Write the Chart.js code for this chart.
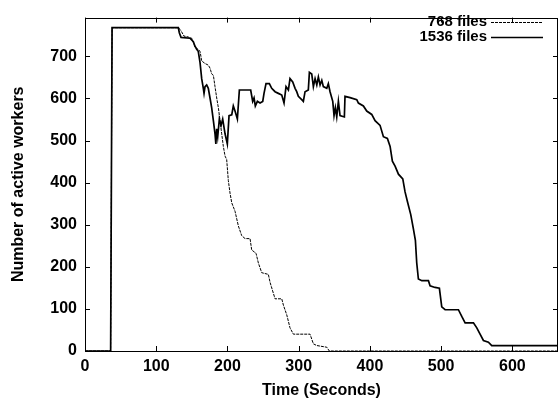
<!DOCTYPE html>
<html>
<head>
<meta charset="utf-8">
<title>Active workers</title>
<script src="https://cdn.jsdelivr.net/npm/chart.js@4/dist/chart.umd.min.js"></script>
<style>
  html, body { margin: 0; padding: 0; background: #fff; }
  #wrap { width: 558px; height: 400px; position: relative; }
</style>
</head>
<body>
<div id="wrap"><canvas id="chart"></canvas></div>
<script>
// Data (detik, jumlah worker aktif)
const seriesNames = ['768 files', '1536 files']

const time768 = [0, 36, 38, 131, 133.4, 135.7, 139, 142.8, 149.8, 152.1, 154.4, 159.1, 161.5,
  163.8, 168.5, 173.1, 175.5, 177.9, 180.2, 182.5, 184.9, 187.2, 189.6, 191.9, 194.2, 196.6,
  198.9, 201.2, 203.6, 206, 210.6, 215.3, 220, 224.7, 231.7, 234, 240.1, 243.4, 248.1, 257.4,
  259.8, 266.8, 276.2, 278.5, 283.2, 287.8, 292.5, 315.9, 320.6, 325.3, 339.4, 343, 664]
const workers768 = [0, 0, 768, 768, 764, 758, 748, 747, 743, 733, 722, 716, 712,
  689, 683, 679, 672, 658, 655, 628, 601, 578, 547, 516, 486, 463,
  455, 405, 375, 352, 332, 297, 274, 267, 267, 240, 232, 209, 186, 182,
  163, 124, 124, 109, 86, 55, 40, 40, 17, 13, 9, 0, 0]

const time1536 = [0, 36, 38, 131, 132.4, 134.8, 147.4, 152.1, 154.4, 156.8, 159, 161.5, 163.8,
  166.1, 167.1, 168.5, 170.8, 173.1, 175.5, 177.8, 180.2, 182.5, 183.7, 184.9, 186.3, 188.6,
  191, 193.3, 196.6, 199.8, 202.2, 206, 208.2, 210.6, 213.9, 216.7, 232.6, 235.4, 237.3, 239.1,
  242, 245.7, 249.5, 251.3, 254.1, 258.8, 262.1, 266.8, 271.4, 276.2, 279.4, 282.2, 285.5,
  287.8, 291.6, 294.9, 297.2, 299.5, 304.2, 306.5, 308.9, 313.5, 315, 318.3, 320.6, 323,
  325.4, 327.6, 330, 332.4, 334.6, 339.4, 341.6, 344, 347.8, 349.6, 351.5, 353.4, 355.7, 358,
  364.1, 365, 372.1, 381.5, 383.8, 390.8, 395.5, 402.5, 407.2, 414.2, 418.9, 424.5, 428.3,
  431.5, 435.3, 440, 446.1, 449.3, 452.6, 457.3, 461, 463.8, 465.7, 468, 472.8, 482.1, 484.4,
  491.4, 497.5, 500.8, 505.5, 524.2, 528.9, 533.6, 545.3, 550, 554.6, 559.3, 566.3, 571, 664]
const workers1536 = [0, 0, 768, 768, 756, 745, 743, 735, 724, 717, 712, 685, 647,
  624, 612, 628, 632, 624, 601, 578, 547, 516, 492, 528, 509, 551,
  536, 551, 516, 492, 559, 561, 582, 570, 551, 620, 620, 593, 601, 582,
  593, 589, 593, 612, 635, 635, 624, 616, 612, 608, 589, 628, 620,
  647, 639, 624, 616, 605, 597, 593, 616, 620, 662, 658, 628, 647,
  632, 651, 632, 643, 628, 624, 635, 616, 593, 559, 578, 556, 593, 559,
  556, 605, 602, 597, 589, 582, 570, 562, 547, 536, 509, 505, 486,
  451, 439, 420, 409, 378, 355, 324, 290, 263, 209, 171, 167, 167, 155,
  151, 149, 105, 98, 98, 82, 67, 67, 55, 40, 25, 21, 13, 13]

const xTicks = [0, 100, 200, 300, 400, 500, 600]
const yTicks = [0, 100, 200, 300, 400, 500, 600, 700]

const FONT = "'Liberation Sans', Arial, Helvetica, sans-serif"

function toPoints(xs, ys) {
  return xs.map((x, i) => ({ x: x, y: ys[i] }))
}

// Plugin: bingkai gaya gnuplot, tick ke dalam, dan legenda di kanan atas
const gnuplotFrame = {
  id: 'gnuplotFrame',
  afterDatasetsDraw(chart) {
    const ctx = chart.ctx
    const a = chart.chartArea
    const xs = chart.scales.x
    const ys = chart.scales.y
    const len = 5
    ctx.save()
    ctx.strokeStyle = '#000'
    ctx.lineWidth = 1
    ctx.beginPath()
    xTicks.forEach(v => {
      const px = Math.round(xs.getPixelForValue(v)) + 0.5
      if (px > a.right) return
      ctx.moveTo(px, a.bottom); ctx.lineTo(px, a.bottom - len)
      ctx.moveTo(px, a.top); ctx.lineTo(px, a.top + len)
    })
    yTicks.forEach(v => {
      const py = Math.round(ys.getPixelForValue(v)) + 0.5
      ctx.moveTo(a.left, py); ctx.lineTo(a.left + len, py)
      ctx.moveTo(a.right, py); ctx.lineTo(a.right - len, py)
    })
    ctx.stroke()
    ctx.strokeRect(Math.round(a.left) + 0.5, Math.round(a.top) + 0.5,
      Math.round(a.right - a.left) - 1, Math.round(a.bottom - a.top))

    // legenda
    ctx.font = 'bold 15px ' + FONT
    ctx.fillStyle = '#000'
    ctx.textAlign = 'right'
    ctx.textBaseline = 'middle'
    chart.data.datasets.forEach((ds, i) => {
      const y = 22 + i * 15
      ctx.fillText(ds.label, 487, y)
      ctx.beginPath()
      ctx.lineWidth = ds.borderWidth
      ctx.setLineDash(ds.borderDash || [])
      ctx.moveTo(491, y + 0.5)
      ctx.lineTo(543, y + 0.5)
      ctx.stroke()
    })
    ctx.restore()
  }
}

function initializeChart() {
  const ctx = document.getElementById('chart')
  new Chart(ctx, {
    type: 'line',
    data: {
      datasets: [
        {
          label: seriesNames[0],
          data: toPoints(time768, workers768),
          borderColor: '#000',
          borderWidth: 1,
          borderDash: [3, 1],
          pointRadius: 0,
          tension: 0
        },
        {
          label: seriesNames[1],
          data: toPoints(time1536, workers1536),
          borderColor: '#000',
          borderWidth: 1.7,
          pointRadius: 0,
          tension: 0
        }
      ]
    },
    options: {
      responsive: true,
      maintainAspectRatio: false,
      animation: false,
      layout: { padding: { top: 7, right: 0, bottom: 0, left: 0 } },
      plugins: {
        legend: { display: false },
        tooltip: { enabled: false }
      },
      scales: {
        x: {
          type: 'linear',
          min: 0,
          max: 664,
          grid: { display: false, drawTicks: false },
          border: { display: false },
          afterFit: s => { s.height = 49 },
          afterBuildTicks: s => { s.ticks = xTicks.map(v => ({ value: v })) },
          ticks: {
            padding: 6,
            color: '#000',
            font: { family: FONT, size: 16, weight: 'bold' },
            maxRotation: 0
          },
          title: {
            display: true,
            text: 'Time (Seconds)',
            color: '#000',
            padding: { top: 1, bottom: 0 },
            font: { family: FONT, size: 16, weight: 'bold' }
          }
        },
        y: {
          type: 'linear',
          min: 0,
          max: 792,
          grid: { display: false, drawTicks: false },
          border: { display: false },
          afterFit: s => { s.width = 85 },
          afterBuildTicks: s => { s.ticks = yTicks.map(v => ({ value: v })) },
          ticks: {
            padding: 8,
            color: '#000',
            font: { family: FONT, size: 16, weight: 'bold' }
          },
          title: {
            display: true,
            text: 'Number of active workers',
            color: '#000',
            padding: { top: 9, bottom: 0 },
            font: { family: FONT, size: 16, weight: 'bold' }
          }
        }
      }
    },
    plugins: [gnuplotFrame]
  })
}

window.addEventListener('load', () => {
  initializeChart()
})
</script>
</body>
</html>
